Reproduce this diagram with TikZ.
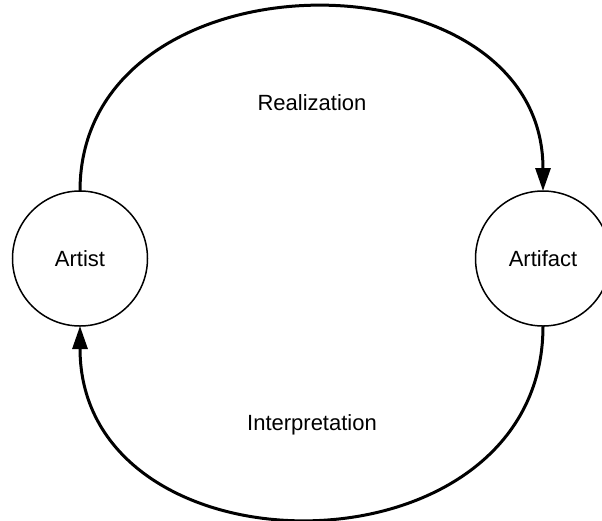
\documentclass[tikz,border=0pt]{standalone}
\usepackage{fontspec}
\setmainfont{Liberation Sans}
\usetikzlibrary{arrows.meta}

\tikzset{
  actor/.style={circle, draw, line width=1.5pt, minimum size=135pt, inner sep=0pt,
                outer sep=0pt, font=\fontsize{22}{26}\selectfont},
  flow/.style={line width=3pt, -{Triangle[length=23pt, width=15pt]}},
  flowlabel/.style={font=\fontsize{22}{26}\selectfont}
}

\begin{document}
\begin{tikzpicture}[x=1pt, y=-1pt]
  \useasboundingbox (0,0) rectangle (602,520);

  % the two participants of the cycle
  \node[actor] (artist)   at (80,258.5)  {Artist};
  \node[actor] (artifact) at (543,258.5) {Artifact};

  % upper arc: artist realizes the artifact
  \draw[flow] (artist.north) .. controls +(0,-244) and +(0,-244) .. (artifact.north);
  % lower arc: the artifact is interpreted back
  \draw[flow] (artifact.south) .. controls +(0,256) and +(0,256) .. (artist.south);

  \node[flowlabel] (real)   at (312,103) {Realization};
  \node[flowlabel] (interp) at (312,425) {Interpretation};
\end{tikzpicture}
\end{document}
